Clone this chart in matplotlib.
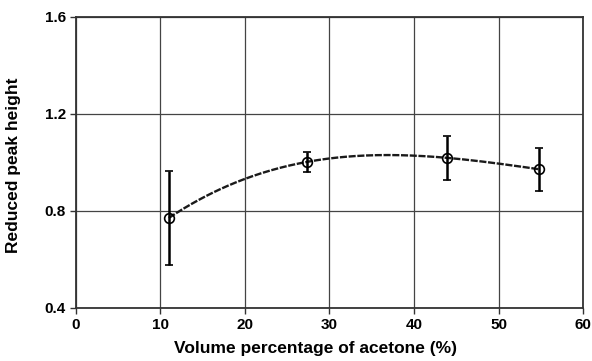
import numpy as np
import matplotlib.pyplot as plt

plt.rcParams['font.family'] = ['Liberation Sans', 'DejaVu Sans']
plt.rcParams['font.weight'] = 'bold'

# acetone volume percentage and reduced peak heights
acetone = [11.0, 27.3, 43.9, 54.8]
peak = [0.771, 1.002, 1.019, 0.972]
err = [0.193, 0.043, 0.092, 0.088]

xticks = [0, 10, 20, 30, 40, 50, 60]
yticks = [0.4, 0.8, 1.2, 1.6]

fig = plt.figure(figsize=(5.92, 3.61), dpi=100)
ax = fig.add_axes([0.128, 0.147, 0.857, 0.806])

# trend line through the points
coef = np.polyfit(acetone, peak, 3)
xs = np.linspace(acetone[0], acetone[-1], 200)
ax.plot(xs, np.polyval(coef, xs), color='#1a1a1a', lw=1.7, ls=(0, (3, 0.7)), zorder=3)

ax.errorbar(acetone, peak, yerr=err, fmt='o', ms=7, mfc='none', mec='black',
            mew=1.2, ecolor='black', elinewidth=1.8, capsize=2.6, capthick=1.6, zorder=4)

ax.set_xlim(0, 60)
ax.set_ylim(0.4, 1.6)
ax.set_xticks(xticks)
ax.set_yticks(yticks)
ax.set_yticklabels(['%.1f' % v for v in yticks])
ax.grid(True, color='#444444', lw=0.9)
ax.set_axisbelow(True)
for s in ax.spines.values():
    s.set_linewidth(1.3)
    s.set_color('#333333')
ax.tick_params(labelsize=11, length=4, width=1, color='#333333', pad=3)

ax.set_xlabel('Volume percentage of acetone (%)', fontsize=12.5, fontweight='bold')
ax.set_ylabel('Reduced peak height', fontsize=12.5, fontweight='bold')
ax.xaxis.set_label_coords(0.473, -0.115)
ax.yaxis.set_label_coords(-0.107, 0.49)

fig.savefig('out.png', dpi=100)
